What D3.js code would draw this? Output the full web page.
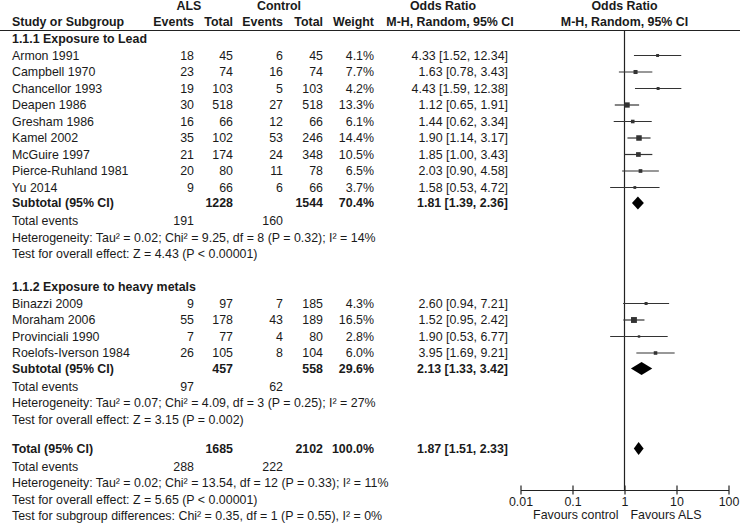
<!DOCTYPE html>
<html>
<head>
<meta charset="utf-8">
<script src="https://cdn.jsdelivr.net/npm/d3@7"></script>
<style>
    body { margin: 0; background: #fff; }
    svg text { font-family: Arial, "Liberation Sans", sans-serif; font-size: 12.4px; fill: #1a1a1a; }
    .b { font-weight: bold; }
</style>
</head>
<body>
<div id="chart"></div>
<script>
(function () {
    'use strict';

    // group 1.1.1 Exposure to Lead
    var leadStudies = ['Armon 1991', 'Campbell 1970', 'Chancellor 1993', 'Deapen 1986', 'Gresham 1986',
        'Kamel 2002', 'McGuire 1997', 'Pierce-Ruhland 1981', 'Yu 2014'];
    var leadAlsEvents = [18, 23, 19, 30, 16, 35, 21, 20, 9];
    var leadAlsTotal = [45, 74, 103, 518, 66, 102, 174, 80, 66];
    var leadCtrlEvents = [6, 16, 5, 27, 12, 53, 24, 11, 6];
    var leadCtrlTotal = [45, 74, 103, 518, 66, 246, 348, 78, 66];
    var leadWeight = [4.1, 7.7, 4.2, 13.3, 6.1, 14.4, 10.5, 6.5, 3.7];
    var leadOR = [4.33, 1.63, 4.43, 1.12, 1.44, 1.90, 1.85, 2.03, 1.58];
    var leadLow = [1.52, 0.78, 1.59, 0.65, 0.62, 1.14, 1.00, 0.90, 0.53];
    var leadHigh = [12.34, 3.43, 12.38, 1.91, 3.34, 3.17, 3.43, 4.58, 4.72];
    var leadSubtotal = { alsTotal: 1228, ctrlTotal: 1544, weight: 70.4, or: 1.81, lo: 1.39, hi: 2.36, alsEvents: 191, ctrlEvents: 160 };
    var leadHet = 'Heterogeneity: Tau² = 0.02; Chi² = 9.25, df = 8 (P = 0.32); I² = 14%';
    var leadTest = 'Test for overall effect: Z = 4.43 (P < 0.00001)';

    // group 1.1.2 Exposure to heavy metals
    var metalStudies = ['Binazzi 2009', 'Moraham 2006', 'Provinciali 1990', 'Roelofs-Iverson 1984'];
    var metalAlsEvents = [9, 55, 7, 26];
    var metalAlsTotal = [97, 178, 77, 105];
    var metalCtrlEvents = [7, 43, 4, 8];
    var metalCtrlTotal = [185, 189, 80, 104];
    var metalWeight = [4.3, 16.5, 2.8, 6.0];
    var metalOR = [2.60, 1.52, 1.90, 3.95];
    var metalLow = [0.94, 0.95, 0.53, 1.69];
    var metalHigh = [7.21, 2.42, 6.77, 9.21];
    var metalSubtotal = { alsTotal: 457, ctrlTotal: 558, weight: 29.6, or: 2.13, lo: 1.33, hi: 3.42, alsEvents: 97, ctrlEvents: 62 };
    var metalHet = 'Heterogeneity: Tau² = 0.07; Chi² = 4.09, df = 3 (P = 0.25); I² = 27%';
    var metalTest = 'Test for overall effect: Z = 3.15 (P = 0.002)';

    // overall
    var overall = { alsTotal: 1685, ctrlTotal: 2102, weight: 100.0, or: 1.87, lo: 1.51, hi: 2.33, alsEvents: 288, ctrlEvents: 222 };
    var overallHet = 'Heterogeneity: Tau² = 0.02; Chi² = 13.54, df = 12 (P = 0.33); I² = 11%';
    var overallTest = 'Test for overall effect: Z = 5.65 (P < 0.00001)';
    var subgroupTest = 'Test for subgroup differences: Chi² = 0.35, df = 1 (P = 0.55), I² = 0%';

    var axisTicks = [0.01, 0.1, 1, 10, 100];
    var favoursLeft = 'Favours control';
    var favoursRight = 'Favours ALS';

    var width = 740;
    var height = 532;
    var f2 = d3.format('.2f');
    var f1 = d3.format('.1f');

    var col = { study: 12, alsEv: 194, alsTot: 233, ctlEv: 283, ctlTot: 323, weight: 374, or: 508 };

    var svg = d3.select('#chart').append('svg')
        .attr('width', width)
        .attr('height', height);

    var x = d3.scaleLog().domain([0.01, 100]).range([520.5, 728.5]);
    var axisY = 490;

    // build the row list with y positions
    var rows = [];
    var y = 39;
    function buildGroup(title, names, ae, at, ce, ct, w, or, lo, hi, sub, het, test) {
        rows.push({ type: 'title', y: y, text: title });
        names.forEach(function (n, i) {
            y += 16.5;
            rows.push({ type: 'study', y: y, name: n, ae: ae[i], at: at[i], ce: ce[i], ct: ct[i], w: w[i], or: or[i], lo: lo[i], hi: hi[i] });
        });
        y += 15.5;
        rows.push({ type: 'sub', y: y, name: 'Subtotal (95% CI)', s: sub });
        y += 18;
        rows.push({ type: 'events', y: y, s: sub });
        y += 16.5;
        rows.push({ type: 'note', y: y, text: het });
        y += 16.5;
        rows.push({ type: 'note', y: y, text: test });
    }
    buildGroup('1.1.1 Exposure to Lead', leadStudies, leadAlsEvents, leadAlsTotal, leadCtrlEvents, leadCtrlTotal,
        leadWeight, leadOR, leadLow, leadHigh, leadSubtotal, leadHet, leadTest);
    y += 33;
    buildGroup('1.1.2 Exposure to heavy metals', metalStudies, metalAlsEvents, metalAlsTotal, metalCtrlEvents, metalCtrlTotal,
        metalWeight, metalOR, metalLow, metalHigh, metalSubtotal, metalHet, metalTest);
    y += 29;
    rows.push({ type: 'sub', y: y, name: 'Total (95% CI)', s: overall });
    y += 18;
    rows.push({ type: 'events', y: y, s: overall });
    [overallHet, overallTest, subgroupTest].forEach(function (t) {
        y += 16.5;
        rows.push({ type: 'note', y: y, text: t });
    });

    function txt(xp, yp, s, anchor, bold) {
        return svg.append('text')
            .attr('x', xp)
            .attr('y', yp + 4.4)
            .attr('text-anchor', anchor || 'start')
            .attr('class', bold ? 'b' : null)
            .text(s);
    }

    // headers
    txt(189, 6, 'ALS', 'middle', true);
    txt(279, 6, 'Control', 'middle', true);
    txt(443, 6, 'Odds Ratio', 'middle', true);
    txt(x(1), 6, 'Odds Ratio', 'middle', true);
    txt(col.study, 22, 'Study or Subgroup', 'start', true);
    txt(col.alsEv, 22, 'Events', 'end', true);
    txt(col.alsTot, 22, 'Total', 'end', true);
    txt(col.ctlEv, 22, 'Events', 'end', true);
    txt(col.ctlTot, 22, 'Total', 'end', true);
    txt(col.weight, 22, 'Weight', 'end', true);
    txt(450, 22, 'M-H, Random, 95% CI', 'middle', true);
    txt(x(1), 22, 'M-H, Random, 95% CI', 'middle', true);

    svg.append('line')
        .attr('x1', 0).attr('x2', width)
        .attr('y1', 30.5).attr('y2', 30.5)
        .attr('stroke', '#222').attr('stroke-width', 1.2);

    // null line
    svg.append('line')
        .attr('x1', x(1)).attr('x2', x(1))
        .attr('y1', 30).attr('y2', axisY)
        .attr('stroke', '#222').attr('stroke-width', 1.2);

    function orText(d) {
        return f2(d.or) + ' [' + f2(d.lo) + ', ' + f2(d.hi) + ']';
    }

    rows.forEach(function (r) {
        if (r.type === 'title') {
            txt(col.study, r.y, r.text, 'start', true);
        } else if (r.type === 'note') {
            txt(col.study, r.y, r.text);
        } else if (r.type === 'events') {
            txt(col.study, r.y, 'Total events');
            txt(col.alsEv, r.y, r.s.alsEvents, 'end');
            txt(col.ctlEv, r.y, r.s.ctrlEvents, 'end');
        } else if (r.type === 'study') {
            txt(col.study, r.y, r.name);
            txt(col.alsEv, r.y, r.ae, 'end');
            txt(col.alsTot, r.y, r.at, 'end');
            txt(col.ctlEv, r.y, r.ce, 'end');
            txt(col.ctlTot, r.y, r.ct, 'end');
            txt(col.weight, r.y, f1(r.w) + '%', 'end');
            txt(col.or, r.y, orText(r), 'end');

            svg.append('line')
                .attr('x1', x(r.lo)).attr('x2', x(r.hi))
                .attr('y1', r.y).attr('y2', r.y)
                .attr('stroke', '#333').attr('stroke-width', 1.2);
            var s = 1.45 * Math.sqrt(r.w);
            svg.append('rect')
                .attr('x', x(r.or) - s / 2).attr('y', r.y - s / 2)
                .attr('width', s).attr('height', s)
                .attr('fill', '#333');
        } else if (r.type === 'sub') {
            txt(col.study, r.y, r.name, 'start', true);
            txt(col.alsTot, r.y, r.s.alsTotal, 'end', true);
            txt(col.ctlTot, r.y, r.s.ctrlTotal, 'end', true);
            txt(col.weight, r.y, f1(r.s.weight) + '%', 'end', true);
            txt(col.or, r.y, orText(r.s), 'end', true);

            var h = 6.5;
            svg.append('path')
                .attr('d', 'M' + x(r.s.lo) + ',' + r.y +
                    'L' + x(r.s.or) + ',' + (r.y - h) +
                    'L' + x(r.s.hi) + ',' + r.y +
                    'L' + x(r.s.or) + ',' + (r.y + h) + 'Z')
                .attr('fill', '#000');
        }
    });

    // axis
    var axis = d3.axisBottom(x)
        .tickValues(axisTicks)
        .tickFormat(function (d) { return String(d); })
        .tickSizeOuter(0)
        .tickSizeInner(4);

    var ag = svg.append('g')
        .attr('transform', 'translate(0,' + axisY + ')')
        .call(axis);
    ag.select('.domain').attr('stroke', '#222').attr('stroke-width', 1.2);
    ag.selectAll('.tick line').attr('y1', -4.5).attr('y2', 4.5).attr('stroke', '#222').attr('stroke-width', 1.2);
    ag.selectAll('.tick text')
        .attr('y', 7)
        .style('font-family', 'Arial, "Liberation Sans", sans-serif')
        .style('font-size', '12.4px')
        .attr('fill', '#1a1a1a');

    txt(x(1) - 6, 515, favoursLeft, 'end');
    txt(x(1) + 6, 515, favoursRight, 'start');
})();
</script>
</body>
</html>
